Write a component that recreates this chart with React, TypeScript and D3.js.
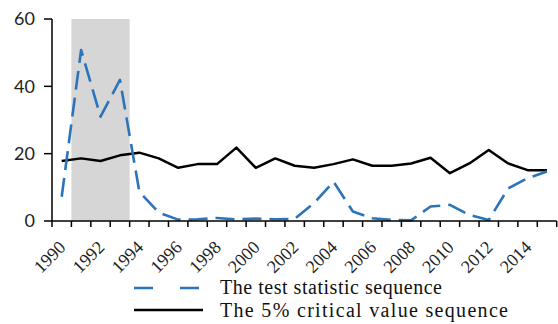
import React from "react";
import * as d3 from "d3";

// categories (years) and the two series
const years = [1990, 1991, 1992, 1993, 1994, 1995, 1996, 1997, 1998, 1999, 2000, 2001, 2002,
    2003, 2004, 2005, 2006, 2007, 2008, 2009, 2010, 2011, 2012, 2013, 2014, 2015];
const testStat = [7.2, 50.8, 31, 41.9, 8.7, 2.5, 0.4, 0.5, 0.9, 0.5, 0.7, 0.5, 0.6,
    5.3, 11.7, 2.8, 0.8, 0.3, 0.2, 4.3, 4.8, 1.8, 0.3, 9.7, 12.7, 14.7];
const critical = [17.8, 18.6, 17.8, 19.5, 20.3, 18.6, 15.8, 16.9, 16.9, 21.8, 15.8, 18.6, 16.4,
    15.8, 16.9, 18.3, 16.4, 16.4, 17.1, 18.8, 14.2, 17.1, 21.1, 17.1, 15.1, 15.1];
const shadedYears = [1991, 1993];
const yTicks = [0, 20, 40, 60];
const legendLabels = ["The test statistic sequence", "The 5% critical value sequence"];

const W = 558;
const H = 324;
const left = 52, right = 556.7, top = 19, bottom = 221;
const serif = "'Liberation Serif', 'Times New Roman', serif";

export default function App() {
    // band scale so ticks sit between the years like an Excel category axis
    const x = d3.scaleBand<number>().domain(years).range([left, right]).padding(0);
    const bw = x.bandwidth();
    const cx = (yr: number) => (x(yr) as number) + bw / 2;
    const y = d3.scaleLinear().domain([0, 60]).range([bottom, top]);

    const line = d3.line<number>()
        .x((d, i) => cx(years[i]))
        .y(d => y(d));

    const boundaries = d3.range(years.length + 1).map(i => left + i * bw);
    const blue = "#2b74b9";

    return (
        <svg width={W} height={H} style={{ position: "absolute", left: 0, top: 0, background: "#fff" }}>
            {/* shaded period */}
            <rect x={x(shadedYears[0])} y={y(60)}
                width={(x(shadedYears[1]) as number) + bw - (x(shadedYears[0]) as number)}
                height={y(0) - y(60)} fill="#d6d6d6" />

            {/* series */}
            <path d={line(critical) || ""} fill="none" stroke="#000" strokeWidth={2.5} strokeLinejoin="round" />
            <path d={line(testStat) || ""} fill="none" stroke={blue} strokeWidth={2.6}
                strokeDasharray="19,8" strokeLinejoin="round" />

            {/* y axis */}
            <line x1={left} x2={left} y1={y(60)} y2={y(0)} stroke="#000" strokeWidth={1.5} />
            {yTicks.map(t => (
                <g key={t}>
                    <line x1={left - 8} x2={left} y1={y(t)} y2={y(t)} stroke="#000" strokeWidth={1.5} />
                    <text x={35} y={y(t)} dy="0.36em" textAnchor="end" fontFamily="Lato, 'Open Sans', sans-serif"
                        fontSize={18} fill="#222">{t}</text>
                </g>
            ))}

            {/* x axis */}
            <line x1={left} x2={right} y1={y(0)} y2={y(0)} stroke="#000" strokeWidth={1.5} />
            {boundaries.map((b, i) => (
                <line key={i} x1={b} x2={b} y1={y(0)} y2={y(0) + 6} stroke="#000" strokeWidth={1.5} />
            ))}
            {years.filter((yr, i) => i % 2 === 0).map(yr => (
                <text key={yr} transform={`translate(${cx(yr) + 5},${y(0) + 27.5}) rotate(-45)`}
                    textAnchor="end" fontFamily={serif} fontSize={18} fill="#222">{yr}</text>
            ))}

            {/* legend */}
            <line x1={134} x2={203} y1={288} y2={288} stroke={blue} strokeWidth={2.6} strokeDasharray="19,27" />
            <text x={220} y={294} fontFamily={serif} fontSize={20}
                fill="#111" textLength={222} lengthAdjust="spacing">{legendLabels[0]}</text>
            <line x1={134} x2={203} y1={310} y2={310} stroke="#000" strokeWidth={2.5} />
            <text x={220} y={316.5} fontFamily={serif} fontSize={20}
                fill="#111" textLength={288} lengthAdjust="spacing">{legendLabels[1]}</text>
        </svg>
    );
}
